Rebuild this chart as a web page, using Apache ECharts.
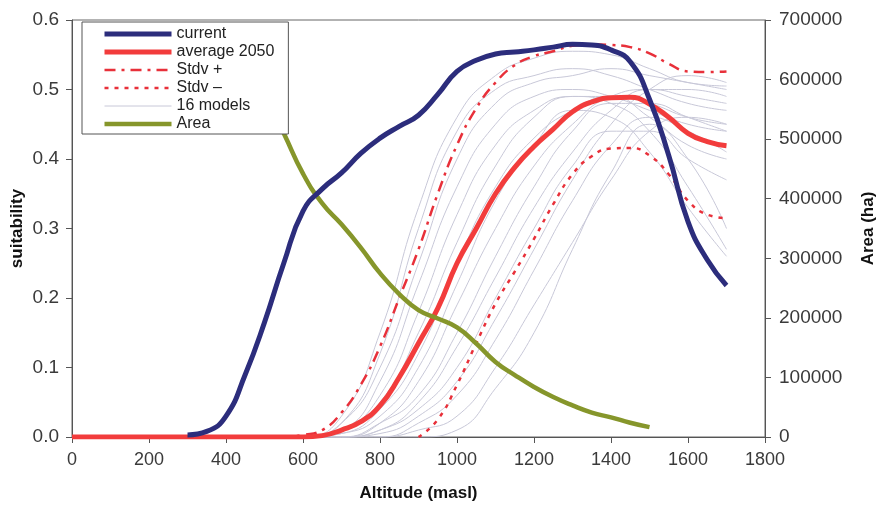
<!DOCTYPE html>
<html>
<head>
<meta charset="utf-8">
<script src="https://cdn.jsdelivr.net/npm/echarts@6/dist/echarts.min.js"></script>
<style>
  html, body { margin: 0; padding: 0; background: #fff; }
  #chart-container { width: 882px; height: 508px; }
</style>
</head>
<body>
<div id="chart-container"></div>
<script>
// altitude steps (masl) for the main curves
var altitude = [0, 50, 100, 150, 200, 250, 300, 350, 400, 450, 500, 550, 600, 650, 700, 750, 800, 850,
  900, 950, 1000, 1050, 1100, 1150, 1200, 1250, 1300, 1350, 1400, 1450, 1500, 1550, 1600, 1650, 1700];

var current = [null, null, null, null, null, null, 0.003, 0.008, 0.03, 0.09, 0.165, 0.25, 0.325, 0.357, 0.38, 0.408, 0.43, 0.447,
  0.463, 0.493, 0.526, 0.542, 0.551, 0.554, 0.557, 0.561, 0.565, 0.564, 0.557, 0.54, 0.486, 0.405, 0.31, 0.255, 0.218];

var average2050 = [0, 0, 0, 0, 0, 0, 0, 0, 0, 0, 0, 0, 0, 0.002, 0.01, 0.022, 0.045, 0.086,
  0.135, 0.185, 0.25, 0.30, 0.35, 0.388, 0.418, 0.443, 0.468, 0.482, 0.488, 0.489, 0.479, 0.46, 0.437, 0.425, 0.419];

var stdvPlus = [0, 0, 0, 0, 0, 0, 0, 0, 0, 0, 0, 0, 0.003, 0.01, 0.035, 0.075, 0.13, 0.2,
  0.27, 0.35, 0.42, 0.473, 0.51, 0.535, 0.548, 0.555, 0.563, 0.565, 0.564, 0.561, 0.552, 0.537, 0.526, 0.525, 0.526];

var stdvMinus = [null, null, null, null, null, null, null, null, null, null, null, null, null, null, null, null, null, null,
  0, 0.025, 0.075, 0.135, 0.192, 0.238, 0.285, 0.335, 0.378, 0.404, 0.415, 0.416, 0.405, 0.378, 0.34, 0.32, 0.315];

// area (ha) at altitude, 500..1500 m
var areaAlt = [500, 550, 600, 650, 700, 750, 800, 850, 900, 950, 1000, 1050, 1100, 1150, 1200, 1250, 1300, 1350, 1400, 1450, 1500];
var area = [575000, 510000, 442000, 392000, 357000, 318000, 275000, 240000, 213000, 199000, 184000, 157000,
  126000, 104000, 84000, 67000, 53000, 41000, 33000, 24000, 16500];

// 16 individual models, 500..1700 m every 100 m
var modelAlt = [500, 600, 700, 800, 900, 1000, 1100, 1200, 1300, 1400, 1500, 1600, 1700];
var models = [
  [0, 0, 0.03, 0.15, 0.33, 0.46, 0.52, 0.545, 0.555, 0.55, 0.53, 0.51, 0.505],
  [0, 0, 0.02, 0.12, 0.30, 0.44, 0.50, 0.52, 0.53, 0.52, 0.50, 0.48, 0.47],
  [0, 0, 0.02, 0.10, 0.25, 0.40, 0.48, 0.51, 0.52, 0.53, 0.52, 0.51, 0.50],
  [0, 0, 0.01, 0.08, 0.22, 0.36, 0.45, 0.49, 0.50, 0.49, 0.47, 0.45, 0.44],
  [0, 0, 0.01, 0.06, 0.18, 0.32, 0.42, 0.47, 0.49, 0.48, 0.44, 0.36, 0.27],
  [0, 0, 0.01, 0.05, 0.15, 0.28, 0.39, 0.46, 0.49, 0.49, 0.46, 0.42, 0.40],
  [0, 0, 0.005, 0.04, 0.12, 0.25, 0.36, 0.43, 0.47, 0.49, 0.48, 0.46, 0.45],
  [0, 0, 0.005, 0.03, 0.10, 0.22, 0.34, 0.42, 0.47, 0.46, 0.41, 0.33, 0.26],
  [0, 0, 0, 0.02, 0.08, 0.19, 0.30, 0.39, 0.45, 0.49, 0.50, 0.49, 0.48],
  [0, 0, 0, 0.02, 0.06, 0.15, 0.26, 0.36, 0.44, 0.48, 0.48, 0.46, 0.44],
  [0, 0, 0, 0.01, 0.05, 0.13, 0.23, 0.33, 0.41, 0.47, 0.50, 0.50, 0.49],
  [0, 0, 0, 0.01, 0.04, 0.10, 0.20, 0.30, 0.39, 0.44, 0.44, 0.40, 0.37],
  [0, 0, 0, 0.005, 0.03, 0.08, 0.17, 0.27, 0.37, 0.45, 0.50, 0.52, 0.51],
  [0, 0, 0, 0, 0.02, 0.06, 0.14, 0.24, 0.34, 0.42, 0.46, 0.44, 0.41],
  [0, 0, 0, 0, 0.01, 0.03, 0.10, 0.19, 0.28, 0.37, 0.44, 0.46, 0.45],
  [0, 0, 0, 0, 0, 0.01, 0.07, 0.15, 0.27, 0.38, 0.45, 0.40, 0.30]
];

var legendNames = ['current', 'average 2050', 'Stdv +', 'Stdv \u2013', '16 models', 'Area'];
var legendWidths = [5, 5, 2.5, 2.5, 1, 4.5];

function pairs(xs, ys) {
  return xs.map(function (x, i) { return [x, ys[i]]; });
}

var myChart = echarts.init(document.getElementById('chart-container'));
var font = '"Liberation Sans", Arial, sans-serif';

var series = [];
models.forEach(function (m) {
  series.push({
    name: '16 models', type: 'line', smooth: 0.5, symbol: 'none', z: 1,
    lineStyle: { color: '#c8c8d8', width: 1 },
    itemStyle: { color: '#c8c8d8' },
    data: pairs(modelAlt, m)
  });
});
series.push({
  name: 'Stdv +', type: 'line', smooth: true, symbol: 'none', z: 3,
  lineStyle: { color: '#e8303a', width: 2.5, type: [11, 6, 3, 6] },
  itemStyle: { color: '#e8303a' },
  data: pairs(altitude, stdvPlus)
});
series.push({
  name: 'Stdv \u2013', type: 'line', smooth: true, symbol: 'none', z: 3,
  lineStyle: { color: '#e8303a', width: 2.5, type: [4, 6] },
  itemStyle: { color: '#e8303a' },
  data: pairs(altitude, stdvMinus)
});
series.push({
  name: 'average 2050', type: 'line', smooth: true, symbol: 'none', z: 4,
  lineStyle: { color: '#f23c3c', width: 5 },
  itemStyle: { color: '#f23c3c' },
  data: pairs(altitude, average2050)
});
series.push({
  name: 'Area', type: 'line', smooth: true, symbol: 'none', z: 5, yAxisIndex: 1,
  lineStyle: { color: '#86962b', width: 4.5 },
  itemStyle: { color: '#86962b' },
  data: pairs(areaAlt, area)
});
series.push({
  name: 'current', type: 'line', smooth: true, symbol: 'none', z: 6,
  lineStyle: { color: '#2c2d7c', width: 5 },
  itemStyle: { color: '#2c2d7c' },
  data: pairs(altitude, current)
});

var plain = function (v) { return String(v); };

var option = {
  animation: false,
  backgroundColor: '#fff',
  textStyle: { fontFamily: font },
  grid: {
    left: 72, right: 117, top: 20, bottom: 71,
    outerBoundsMode: 'none', containLabel: false,
    show: true, borderColor: '#666', borderWidth: 1
  },
  legend: {
    data: legendNames.map(function (n, i) {
      return { name: n, lineStyle: { width: legendWidths[i] } };
    }),
    orient: 'vertical',
    left: 82, top: 22,
    padding: [4, 14, 2, 20],
    itemWidth: 67, itemHeight: 14, itemGap: 2,
    itemStyle: { opacity: 0 },
    backgroundColor: '#fff',
    borderColor: '#555', borderWidth: 1,
    textStyle: { fontSize: 16, color: '#222', lineHeight: 16, fontFamily: font },
    z: 10
  },
  xAxis: {
    type: 'value', min: 0, max: 1800, interval: 200,
    name: 'Altitude (masl)', nameLocation: 'middle', nameGap: 48, nameMoveOverlap: false,
    nameTextStyle: { fontSize: 17, fontWeight: 'bold', color: '#111' },
    axisLine: { lineStyle: { color: '#555' } },
    axisTick: { lineStyle: { color: '#555' }, length: 6 },
    axisLabel: { fontSize: 18, color: '#3a3a3a', margin: 14, formatter: plain },
    splitLine: { show: false }
  },
  yAxis: [
    {
      type: 'value', min: 0, max: 0.6, interval: 0.1, position: 'left',
      name: 'suitability', nameLocation: 'middle', nameGap: 46, nameRotate: 90, nameMoveOverlap: false,
      nameTextStyle: { fontSize: 17, fontWeight: 'bold', color: '#111' },
      axisLine: { show: true, lineStyle: { color: '#555' } },
      axisTick: { show: true, lineStyle: { color: '#555' }, length: 6 },
      axisLabel: { fontSize: 19, color: '#3a3a3a', margin: 13, formatter: function (v) { return v.toFixed(1); } },
      splitLine: { show: false }
    },
    {
      type: 'value', min: 0, max: 700000, interval: 100000, position: 'right',
      name: 'Area (ha)', nameLocation: 'middle', nameGap: 95, nameRotate: 90, nameMoveOverlap: false,
      nameTextStyle: { fontSize: 17, fontWeight: 'bold', color: '#111' },
      axisLine: { show: true, lineStyle: { color: '#555' } },
      axisTick: { show: true, lineStyle: { color: '#555' }, length: 6 },
      axisLabel: { fontSize: 19, color: '#3a3a3a', margin: 14, formatter: plain },
      splitLine: { show: false }
    }
  ],
  series: series
};
myChart.setOption(option);
</script>
</body>
</html>
